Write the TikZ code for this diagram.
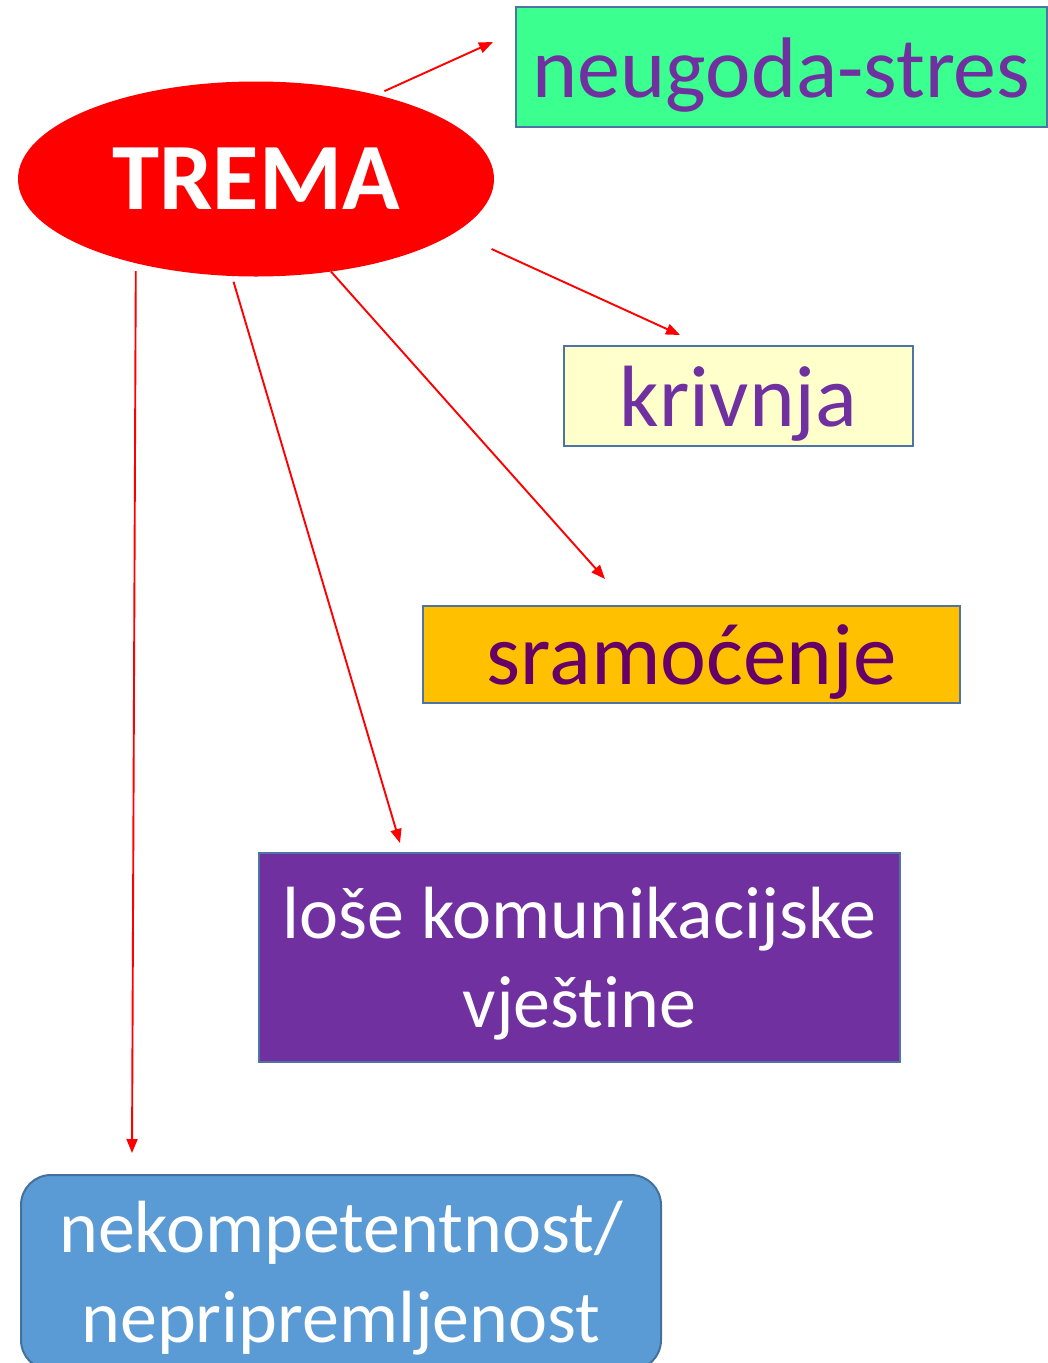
\documentclass[tikz,border=0pt]{standalone}
\usepackage{fontspec}
\setmainfont[Ligatures=NoCommon]{Carlito}
\usepackage{tikz}
\usetikzlibrary{arrows.meta,shapes,positioning}

\definecolor{tremared}{HTML}{FF0000}
\definecolor{mint}{HTML}{3BFF8E}
\definecolor{paleyellow}{HTML}{FFFFCC}
\definecolor{amber}{HTML}{FFC000}
\definecolor{violet}{HTML}{7030A0}
\definecolor{plum}{HTML}{660066}
\definecolor{skyblue}{HTML}{5B9BD5}
\definecolor{frame}{HTML}{4E73A4}
\definecolor{bluefrm}{HTML}{41719C}

\begin{document}
\begin{tikzpicture}[x=1pt,y=-1pt,
    bubble/.style={ellipse,fill=tremared,inner sep=0pt,outer sep=0pt,
        minimum width=476pt,minimum height=195pt,text=white,
        font=\fontsize{95}{110}\selectfont\bfseries},
    tile/.style={rectangle,draw=frame,line width=2pt,inner sep=0pt,outer sep=0pt,
        align=center},
    oneline/.style={text height=78pt,text depth=18pt},
    edge/.style={draw=tremared,line width=1.9pt,
        -{Triangle[length=14pt,width=11pt]}}]
    \useasboundingbox (0,0) rectangle (1048,1363);

    \node[bubble] (trema) at (256,179) {TREMA};
    \node[tile,oneline,fill=mint,text=violet,minimum width=531pt,minimum height=120pt,
        font=\fontsize{86}{104}\selectfont,
        right=22pt of trema,yshift=112pt] (neugoda) {neugoda-stres};
    \node[tile,oneline,fill=paleyellow,text=violet,minimum width=349pt,minimum height=100pt,
        font=\fontsize{87}{104}\selectfont,
        below=219pt of neugoda,xshift=-43pt] (krivnja) {krivnja};
    \node[tile,oneline,fill=amber,text=plum,minimum width=537pt,minimum height=97pt,
        font=\fontsize{87}{104}\selectfont,
        below=160pt of krivnja,xshift=-47pt] (sram) {sramoćenje};
    \node[tile,fill=violet,text=white,minimum width=641pt,minimum height=209pt,
        font=\fontsize{74}{89}\selectfont,text depth=0pt,
        below=150pt of sram,xshift=-112pt] (lose) {loše komunikacijske\\vještine};
    \node[tile,draw=bluefrm,fill=skyblue,text=white,rounded corners=30pt,
        minimum width=640pt,minimum height=195pt,
        font=\fontsize{74}{90}\selectfont,text depth=2pt,
        below=113pt of lose,xshift=-238.5pt] (nekomp) {nekompetentnost/\\nepripremljenost};

    % arrow ends
    \coordinate (h1) at ([shift={(-23,-25)}]neugoda.west);
    \coordinate (h2) at ([shift={(-58.5,-11)}]krivnja.north);
    \coordinate (h3) at ([shift={(-86.5,-27)}]sram.north);
    \coordinate (h4) at ([shift={(-179.5,-10)}]lose.north);
    \coordinate (h5) at ([shift={(-209,-22)}]nekomp.north);

    \draw[edge,shorten <=9pt] (trema.35) -- (h1);
    \draw[edge,shorten <=40pt] (trema.-15) -- (h2);
    \draw[edge] (trema.-51) -- (h3);
    \draw[edge,shorten <=6pt] (trema.-104) -- (h4);
    \draw[edge,shorten <=8pt] (trema.-145) -- (h5);
\end{tikzpicture}
\end{document}
